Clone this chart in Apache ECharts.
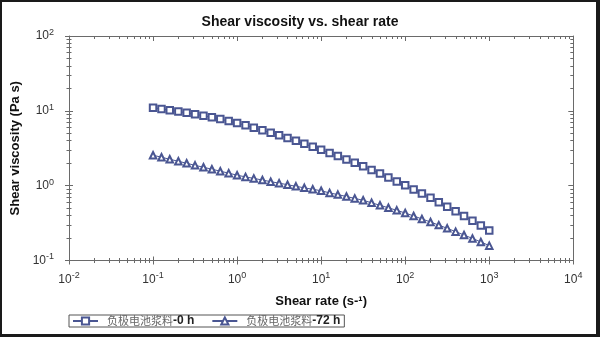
<!DOCTYPE html>
<html>
<head>
<meta charset="utf-8">
<script src="https://cdn.jsdelivr.net/npm/echarts@6/dist/echarts.min.js"></script>
<style>
html,body{margin:0;padding:0;background:#fff;}
#chart{width:600px;height:337px;}
</style>
</head>
<body>
<div id="chart"></div>
<script>
// ---- data ----
const chartTitle = 'Shear viscosity vs. shear rate';
const xAxisName = 'Shear rate (s-\u00b9)';
const yAxisName = 'Shear viscosity (Pa s)';
const seriesNames = ['负极电池浆料-0 h', '负极电池浆料-72 h'];

const shearRate = [0.1,0.126,0.158,0.2,0.251,0.316,0.398,0.501,0.631,0.794,
  1,1.26,1.58,2,2.51,3.16,3.98,5.01,6.31,7.94,
  10,12.6,15.8,20,25.1,31.6,39.8,50.1,63.1,79.4,
  100,126,158,200,251,316,398,501,631,794,1000];

const visc0h = [11.0,10.6,10.2,9.8,9.4,9.0,8.6,8.2,7.75,7.3,
  6.88,6.4,5.95,5.5,5.08,4.7,4.32,3.97,3.63,3.31,
  3.02,2.74,2.49,2.24,2.02,1.82,1.62,1.45,1.29,1.14,
  1.01,0.892,0.784,0.687,0.601,0.524,0.455,0.394,0.340,0.293,0.251];

const visc72h = [2.55,2.40,2.25,2.12,1.99,1.87,1.76,1.66,1.56,1.47,
  1.38,1.31,1.25,1.19,1.13,1.08,1.03,0.98,0.935,0.895,
  0.855,0.80,0.76,0.716,0.676,0.638,0.59,0.547,0.506,0.468,
  0.431,0.394,0.359,0.327,0.297,0.269,0.243,0.219,0.197,0.177,0.158];

const xMajorTicks = [0.01,0.1,1,10,100,1000,10000];
const yMajorTicks = [0.1,1,10,100];
const minorFactors = [2,3,4,5,6,7,8,9];

// ---- helpers ----
function minorsOf(majors){
  const out = [];
  for (let i = 0; i < majors.length - 1; i++) {
    minorFactors.forEach(f => out.push(+(majors[i] * f).toPrecision(6)));
  }
  return out;
}
const xMinorTicks = minorsOf(xMajorTicks);
const yMinorTicks = minorsOf(yMajorTicks);

const FONT = '"Liberation Sans", Arial, sans-serif';
const axisColor = '#6a6a6a';
const seriesColor = '#4a5692';

const expRich = {
  b: {fontSize: 12, fontFamily: FONT, color: '#333', lineHeight: 16},
  sup: {fontSize: 9, fontFamily: FONT, color: '#333', lineHeight: 10, verticalAlign: 'top'}
};
function expFormatter(v){
  const e = Math.round(Math.log10(v));
  return '{b|10}{sup|' + e + '}';
}

const xMin = 0.01, xMax = 10000, yMin = 0.1, yMax = 100;

function tickAxis(base, extra){
  return Object.assign({
    type: 'log', min: base[0], max: base[1],
    splitLine: {show: false},
    axisLabel: {show: false},
    axisLine: {show: false}
  }, extra);
}

const tickLine = {color: axisColor, width: 1};

const xAxes = [
  tickAxis([xMin,xMax], {
    position: 'bottom',
    axisLine: {show: true, onZero: false, lineStyle: {color: axisColor, width: 1}},
    axisTick: {show: false},
    axisLabel: {show: true, customValues: xMajorTicks, formatter: expFormatter, rich: expRich, margin: 11},
    name: xAxisName, nameLocation: 'middle', nameGap: 34,
    nameTextStyle: {fontSize: 13, fontWeight: 'bold', fontFamily: FONT, color: '#111'}
  }),
  tickAxis([xMin,xMax], {position: 'bottom', offset: 4,
    axisTick: {show: true, inside: true, length: 8, customValues: xMajorTicks, lineStyle: tickLine}}),
  tickAxis([xMin,xMax], {position: 'bottom', offset: 2.5,
    axisTick: {show: true, inside: true, length: 5, customValues: xMinorTicks, lineStyle: tickLine}}),
  tickAxis([xMin,xMax], {position: 'top',
    axisLine: {show: true, onZero: false, lineStyle: {color: axisColor, width: 1}},
    axisTick: {show: true, inside: true, length: 5, customValues: xMajorTicks, lineStyle: tickLine}}),
  tickAxis([xMin,xMax], {position: 'top',
    axisTick: {show: true, inside: true, length: 3, customValues: xMinorTicks, lineStyle: tickLine}})
];

const yAxes = [
  tickAxis([yMin,yMax], {
    position: 'left',
    axisLine: {show: true, onZero: false, lineStyle: {color: axisColor, width: 1}},
    axisTick: {show: false},
    axisLabel: {show: true, customValues: yMajorTicks, formatter: expFormatter, rich: expRich, margin: 15},
    name: yAxisName, nameLocation: 'middle', nameGap: 45,
    nameTextStyle: {fontSize: 13, fontWeight: 'bold', fontFamily: FONT, color: '#111'}
  }),
  tickAxis([yMin,yMax], {position: 'left', offset: 4,
    axisTick: {show: true, inside: true, length: 8, customValues: yMajorTicks, lineStyle: tickLine}}),
  tickAxis([yMin,yMax], {position: 'left', offset: 2.5,
    axisTick: {show: true, inside: true, length: 5, customValues: yMinorTicks, lineStyle: tickLine}}),
  tickAxis([yMin,yMax], {position: 'right',
    axisLine: {show: true, onZero: false, lineStyle: {color: axisColor, width: 1}},
    axisTick: {show: true, inside: true, length: 5, customValues: yMajorTicks, lineStyle: tickLine}}),
  tickAxis([yMin,yMax], {position: 'right',
    axisTick: {show: true, inside: true, length: 3, customValues: yMinorTicks, lineStyle: tickLine}})
];

function makeSeries(name, values, symbol){
  return {
    name: name, type: 'line', xAxisIndex: 0, yAxisIndex: 0,
    data: shearRate.map((x, i) => [x, values[i]]),
    symbol: symbol, symbolSize: 6.5, showSymbol: true,
    lineStyle: {color: seriesColor, width: 1},
    itemStyle: {color: seriesColor, borderColor: seriesColor, borderWidth: 1},
    animation: false, silent: true
  };
}

const chart = echarts.init(document.getElementById('chart'), null, {renderer: 'canvas'});
chart.setOption({
  backgroundColor: '#fff',
  animation: false,
  title: {
    text: chartTitle, left: 'center', top: 10,
    textStyle: {fontSize: 14, fontWeight: 'bold', fontFamily: FONT, color: '#111'}
  },
  grid: {left: 69, right: 26.7, top: 36, bottom: 76.5, containLabel: false},
  legend: {
    left: 69, top: 315, orient: 'horizontal',
    itemWidth: 25, itemHeight: 9, itemGap: 17,
    padding: [0, 4, 0, 3],
    borderColor: '#555', borderWidth: 1,
    data: seriesNames,
    formatter: function(name){
      const m = name.match(/^([^-]+)(-.*)$/);
      return m ? '{cjk|' + m[1] + '}{lat|' + m[2] + '}' : name;
    },
    textStyle: {
      lineHeight: 11,
      rich: {
        cjk: {fontSize: 11, fontFamily: '"Noto Sans CJK SC", sans-serif', color: '#666', padding: [0,0,0,4], lineHeight: 11},
        lat: {fontSize: 12, fontWeight: 'bold', fontFamily: FONT, color: '#222', lineHeight: 11}
      }
    }
  },
  xAxis: xAxes,
  yAxis: yAxes,
  series: [
    makeSeries(seriesNames[0], visc0h, 'emptyRect'),
    makeSeries(seriesNames[1], visc72h, 'emptyTriangle')
  ],
  graphic: [
    {type: 'rect', shape: {x: 0, y: 0, width: 600, height: 2}, style: {fill: '#1a1a1a'}, silent: true},
    {type: 'rect', shape: {x: 0, y: 0, width: 2, height: 337}, style: {fill: '#1a1a1a'}, silent: true},
    {type: 'rect', shape: {x: 596, y: 0, width: 4, height: 337}, style: {fill: '#1a1a1a'}, silent: true},
    {type: 'rect', shape: {x: 0, y: 334, width: 600, height: 3}, style: {fill: '#1a1a1a'}, silent: true}
  ]
});
</script>
</body>
</html>
